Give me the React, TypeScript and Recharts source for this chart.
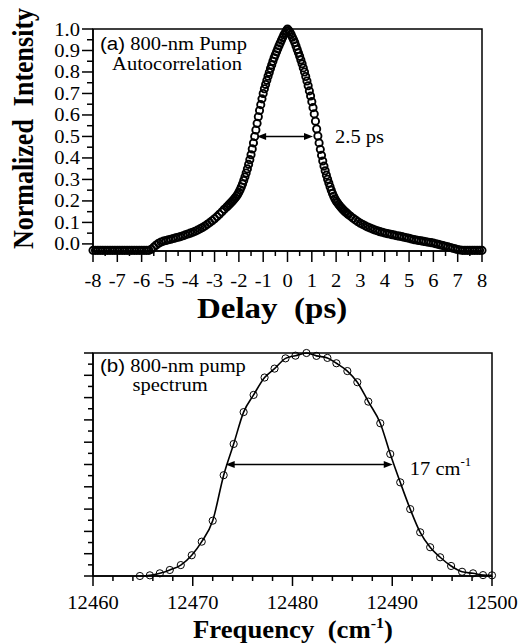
import { LineChart, Line, XAxis, YAxis, ReferenceArea, ReferenceLine } from "recharts";

// (a) autocorrelation: delay (ps) vs normalized intensity
const delayPs = [
  -8.0, -7.9, -7.8, -7.7, -7.6, -7.5, -7.4, -7.3, -7.2, -7.1,
  -7.0, -6.9, -6.8, -6.7, -6.6, -6.5, -6.4, -6.3, -6.2, -6.1,
  -6.0, -5.9, -5.8, -5.7, -5.6, -5.5, -5.4, -5.3, -5.2, -5.1,
  -5.0, -4.9, -4.8, -4.7, -4.6, -4.5, -4.4, -4.3, -4.2, -4.1,
  -4.0, -3.9, -3.8, -3.7, -3.6, -3.5, -3.4, -3.3, -3.2, -3.1,
  -3.0, -2.9, -2.8, -2.7, -2.6,
  -2.5, -2.45, -2.4, -2.35, -2.3, -2.25, -2.2, -2.15, -2.1, -2.05,
  -2.0, -1.95, -1.9, -1.85, -1.8, -1.75, -1.7, -1.65, -1.6, -1.55,
  -1.5, -1.45, -1.4, -1.35, -1.3, -1.25, -1.2, -1.15, -1.1, -1.05,
  -1.0, -0.95, -0.9, -0.85, -0.8, -0.75, -0.7, -0.65, -0.6, -0.55,
  -0.5, -0.45, -0.4, -0.35, -0.3, -0.25, -0.2, -0.15, -0.1, -0.05,
  0,
  0.05, 0.1, 0.15, 0.2, 0.25, 0.3, 0.35, 0.4, 0.45, 0.5,
  0.55, 0.6, 0.65, 0.7, 0.75, 0.8, 0.85, 0.9, 0.95, 1.0,
  1.05, 1.1, 1.15, 1.2, 1.25, 1.3, 1.35, 1.4, 1.45, 1.5,
  1.55, 1.6, 1.65, 1.7, 1.75, 1.8, 1.85, 1.9, 1.95, 2.0,
  2.05, 2.1, 2.15, 2.2, 2.25, 2.3, 2.35, 2.4, 2.45, 2.5,
  2.6, 2.7, 2.8, 2.9, 3.0,
  3.1, 3.2, 3.3, 3.4, 3.5, 3.6, 3.7, 3.8, 3.9, 4.0,
  4.1, 4.2, 4.3, 4.4, 4.5, 4.6, 4.7, 4.8, 4.9, 5.0,
  5.1, 5.2, 5.3, 5.4, 5.5, 5.6, 5.7, 5.8, 5.9, 6.0,
  6.1, 6.2, 6.3, 6.4, 6.5, 6.6, 6.7, 6.8, 6.9, 7.0,
  7.1, 7.2, 7.3, 7.4, 7.5, 7.6, 7.7, 7.8, 7.9, 8.0,
];

const autocorrelation = [
  -0.03, -0.03, -0.03, -0.03, -0.03, -0.03, -0.03, -0.03, -0.03, -0.03,
  -0.03, -0.03, -0.03, -0.03, -0.03, -0.03, -0.03, -0.03, -0.03, -0.03,
  -0.03, -0.03, -0.03, -0.03, -0.025, -0.015, -0.005, 0.003, 0.009, 0.013,
  0.016, 0.019, 0.022, 0.025, 0.028, 0.031, 0.034, 0.038, 0.042, 0.046,
  0.05, 0.054, 0.059, 0.064, 0.07, 0.076, 0.083, 0.091, 0.099, 0.108,
  0.117, 0.127, 0.138, 0.149, 0.161,
  0.172, 0.177, 0.183, 0.189, 0.195, 0.201, 0.208, 0.215, 0.222, 0.23,
  0.24, 0.252, 0.265, 0.279, 0.295, 0.312, 0.33, 0.349, 0.37, 0.392,
  0.415, 0.442, 0.47, 0.5, 0.53, 0.561, 0.592, 0.621, 0.648, 0.675,
  0.7, 0.722, 0.742, 0.761, 0.78, 0.798, 0.816, 0.833, 0.85, 0.866,
  0.88, 0.894, 0.908, 0.922, 0.935, 0.948, 0.96, 0.972, 0.982, 0.992,
  1.0,
  0.993, 0.985, 0.974, 0.962, 0.95, 0.937, 0.921, 0.905, 0.889, 0.873,
  0.856, 0.838, 0.819, 0.8, 0.779, 0.758, 0.736, 0.712, 0.688, 0.662,
  0.634, 0.605, 0.571, 0.535, 0.502, 0.47, 0.44, 0.412, 0.386, 0.362,
  0.34, 0.32, 0.301, 0.283, 0.266, 0.25, 0.235, 0.222, 0.21, 0.2,
  0.192, 0.184, 0.177, 0.17, 0.164, 0.158, 0.152, 0.147, 0.142, 0.137,
  0.128, 0.119, 0.111, 0.103, 0.096,
  0.09, 0.084, 0.079, 0.074, 0.069, 0.065, 0.061, 0.057, 0.054, 0.051,
  0.048, 0.046, 0.043, 0.041, 0.038, 0.036, 0.034, 0.031, 0.029, 0.026,
  0.023, 0.02, 0.018, 0.016, 0.014, 0.012, 0.01, 0.008, 0.006, 0.004,
  0.001, -0.002, -0.005, -0.008, -0.011, -0.014, -0.017, -0.02, -0.023, -0.026,
  -0.028, -0.03, -0.03, -0.03, -0.03, -0.03, -0.03, -0.03, -0.03, -0.03,
];

// (b) spectrum: frequency (cm-1) vs intensity
const freqCm = [
  12464.7, 12465.7, 12466.7, 12467.7, 12468.8, 12469.9, 12470.9, 12472.0, 12473.1, 12474.1,
  12475.1, 12476.1, 12477.2, 12478.2, 12479.3, 12480.3, 12481.4, 12482.4, 12483.5, 12484.4,
  12485.5, 12486.5, 12487.6, 12488.8, 12489.8, 12490.8, 12491.8, 12492.8, 12493.8, 12494.8,
  12495.9, 12497.0, 12498.1, 12499.1, 12500.0,
];
const spectrum = [
  0.0, 0.003, 0.012, 0.027, 0.049, 0.093, 0.154, 0.248, 0.452, 0.592,
  0.735, 0.812, 0.89, 0.93, 0.976, 0.988, 1.0, 0.987, 0.978, 0.954,
  0.919, 0.869, 0.782, 0.685, 0.547, 0.42, 0.3, 0.196, 0.129, 0.084,
  0.045, 0.019, 0.012, 0.004, 0.003,
];

const delayTicks = [
  -8, -7.5, -7, -6.5, -6, -5.5, -5, -4.5, -4, -3.5, -3, -2.5, -2, -1.5, -1, -0.5,
  0, 0.5, 1, 1.5, 2, 2.5, 3, 3.5, 4, 4.5, 5, 5.5, 6, 6.5, 7, 7.5, 8,
];
const levelTicks = [
  0, 0.05, 0.1, 0.15, 0.2, 0.25, 0.3, 0.35, 0.4, 0.45, 0.5,
  0.55, 0.6, 0.65, 0.7, 0.75, 0.8, 0.85, 0.9, 0.95, 1.0,
];
const freqTicks = [
  12460, 12462, 12464, 12466, 12468, 12470, 12472, 12474, 12476, 12478, 12480,
  12482, 12484, 12486, 12488, 12490, 12492, 12494, 12496, 12498, 12500,
];

const acData = delayPs.map((t, i) => ({ t, v: autocorrelation[i] }));
const specData = freqCm.map((f, i) => ({ f, v: spectrum[i] }));

const SERIF = "Liberation Serif";
const SANS = "Liberation Sans";
const INK = "#000";

const isWhole = (v: number) => Math.abs(v - Math.round(v)) < 1e-6;
const isTenth = (v: number) => Math.round(v * 100) % 10 === 0;
const isTen = (v: number) => Math.round(v) % 10 === 0;

function xTick(major: (v: number) => boolean, long: number, short: number, labelDy: number) {
  return (p: any) => {
    const v = p.payload.value;
    const big = major(v);
    return (
      <g>
        <line x1={p.x} y1={p.y} x2={p.x} y2={p.y + (big ? long : short)} stroke={INK} strokeWidth={1.5} />
        {big && (
          <text
            transform={`translate(${p.x},${p.y + labelDy}) scale(1.08,1)`}
            textAnchor="middle"
            style={{ fontFamily: SERIF, fontSize: 19 }}
            fill={INK}
          >
            {String(v)}
          </text>
        )}
      </g>
    );
  };
}

function yTick(showLabel: boolean, long: number, short: number) {
  return (p: any) => {
    const v = p.payload.value;
    const big = isTenth(v);
    return (
      <g>
        <line x1={p.x} y1={p.y} x2={p.x - (big ? long : short)} y2={p.y} stroke={INK} strokeWidth={1.5} />
        {showLabel && big && (
          <text
            transform={`translate(${p.x - 13},${p.y + 6.5}) scale(1.08,1)`}
            textAnchor="end"
            style={{ fontFamily: SERIF, fontSize: 19 }}
            fill={INK}
          >
            {v.toFixed(1)}
          </text>
        )}
      </g>
    );
  };
}

function arrow(label: React.ReactNode, gap: number, dy: number) {
  return (p: any) => {
    const left = Math.min(p.x1, p.x2);
    const right = Math.max(p.x1, p.x2);
    const y = p.y1;
    const head = 9;
    const half = 3.5;
    return (
      <g>
        <line x1={left + head - 1} y1={y} x2={right - head + 1} y2={y} stroke={INK} strokeWidth={1.6} />
        <polygon points={`${left},${y} ${left + head},${y - half} ${left + head},${y + half}`} fill={INK} />
        <polygon points={`${right},${y} ${right - head},${y - half} ${right - head},${y + half}`} fill={INK} />
        <text
          transform={`translate(${right + gap},${y + dy}) scale(1.08,1)`}
          style={{ fontFamily: SERIF, fontSize: 19 }}
          fill={INK}
        >
          {label}
        </text>
      </g>
    );
  };
}

const axisLine = { stroke: INK, strokeWidth: 1.5 };

export default function App() {
  return (
    <div style={{ position: "absolute", left: 0, top: 0, width: 518, height: 644, background: "#fff", fontFamily: SERIF }}>
      <div style={{ position: "absolute", left: 0, top: 0 }}>
        <LineChart width={518} height={320} data={acData} margin={{ top: 29, right: 36, bottom: 39, left: 53 }}>
          <XAxis
            dataKey="t"
            type="number"
            domain={[-8, 8]}
            ticks={delayTicks}
            interval={0}
            height={30}
            tickSize={0}
            tickMargin={0}
            tickLine={false}
            axisLine={axisLine}
            tick={xTick(isWhole, 11, 5, 36)}
          />
          <YAxis
            type="number"
            domain={[-0.033, 1]}
            ticks={levelTicks}
            interval={0}
            width={40}
            tickSize={0}
            tickMargin={0}
            tickLine={false}
            axisLine={axisLine}
            tick={yTick(true, 11, 6)}
          />
          <ReferenceArea x1={-8} x2={8} y1={-0.033} y2={1} fill="none" stroke={INK} strokeWidth={1.5} />
          <ReferenceLine
            segment={[{ x: -1.25, y: 0.5 }, { x: 1.05, y: 0.5 }]}
            shape={arrow("2.5 ps", 22, 7)}
          />
          <Line
            dataKey="v"
            stroke="none"
            dot={{ r: 3.6, stroke: INK, strokeWidth: 1.9, fill: "none" }}
            activeDot={false}
            isAnimationActive={false}
          />
        </LineChart>
      </div>
      <div style={{ position: "absolute", left: 0, top: 320 }}>
        <LineChart width={518} height={324} data={specData} margin={{ top: 33, right: 26, bottom: 38, left: 53 }}>
          <XAxis
            dataKey="f"
            type="number"
            domain={[12460, 12500]}
            ticks={freqTicks}
            interval={0}
            height={30}
            tickSize={0}
            tickMargin={0}
            tickLine={false}
            axisLine={axisLine}
            tick={xTick(isTen, 10, 5, 33)}
          />
          <YAxis
            type="number"
            domain={[0, 1]}
            ticks={levelTicks}
            interval={0}
            width={40}
            tickSize={0}
            tickMargin={0}
            tickLine={false}
            axisLine={axisLine}
            tick={yTick(false, 9, 5)}
          />
          <ReferenceArea x1={12460} x2={12500} y1={0} y2={1} fill="none" stroke={INK} strokeWidth={1.5} />
          <ReferenceLine
            segment={[{ x: 12473.3, y: 0.5 }, { x: 12490.05, y: 0.5 }]}
            shape={arrow(
              <>
                17 cm<tspan dy={-9} style={{ fontSize: 12 }}>-1</tspan>
              </>,
              17,
              10
            )}
          />
          <Line
            dataKey="v"
            type="monotone"
            stroke={INK}
            strokeWidth={1.6}
            dot={{ r: 3.6, stroke: INK, strokeWidth: 1, fill: "none" }}
            activeDot={false}
            isAnimationActive={false}
          />
        </LineChart>
      </div>
      <svg
        width={518}
        height={644}
        style={{ position: "absolute", left: 0, top: 0, pointerEvents: "none", fontFamily: SERIF }}
        fill={INK}
      >
        <text
          transform="translate(33,128.5) scale(1.15,1) rotate(-90)"
          textAnchor="middle"
          style={{ whiteSpace: "pre", fontFamily: SERIF, fontSize: 26, fontWeight: "bold" }}
        >
          Normalized  Intensity
        </text>
        <text
          transform="translate(197,318) scale(1.1,1)"
          style={{ whiteSpace: "pre", fontFamily: SERIF, fontSize: 30, fontWeight: "bold" }}
        >
          Delay  (ps)
        </text>
        <text
          transform="translate(193,638) scale(1.07,1)"
          style={{ whiteSpace: "pre", fontFamily: SERIF, fontSize: 25, fontWeight: "bold" }}
        >
          Frequency  (cm<tspan dy={-10} style={{ fontSize: 15 }}>-1</tspan>
          <tspan dy={10}>)</tspan>
        </text>
        <text transform="translate(100,49.5) scale(1.08,1)" style={{ fontFamily: SERIF, fontSize: 19 }}>
          <tspan style={{ fontFamily: SANS }}>(a)</tspan>
          <tspan style={{ whiteSpace: "pre" }}> 800-nm Pump</tspan>
        </text>
        <text
          transform="translate(177,69.5) scale(1.08,1)"
          textAnchor="middle"
          style={{ fontFamily: SERIF, fontSize: 19 }}
        >
          Autocorrelation
        </text>
        <text transform="translate(100,372) scale(1.08,1)" style={{ fontFamily: SERIF, fontSize: 19 }}>
          <tspan style={{ fontFamily: SANS }}>(b)</tspan>
          <tspan style={{ whiteSpace: "pre" }}> 800-nm pump</tspan>
        </text>
        <text
          transform="translate(170,391) scale(1.08,1)"
          textAnchor="middle"
          style={{ fontFamily: SERIF, fontSize: 19 }}
        >
          spectrum
        </text>
      </svg>
    </div>
  );
}
